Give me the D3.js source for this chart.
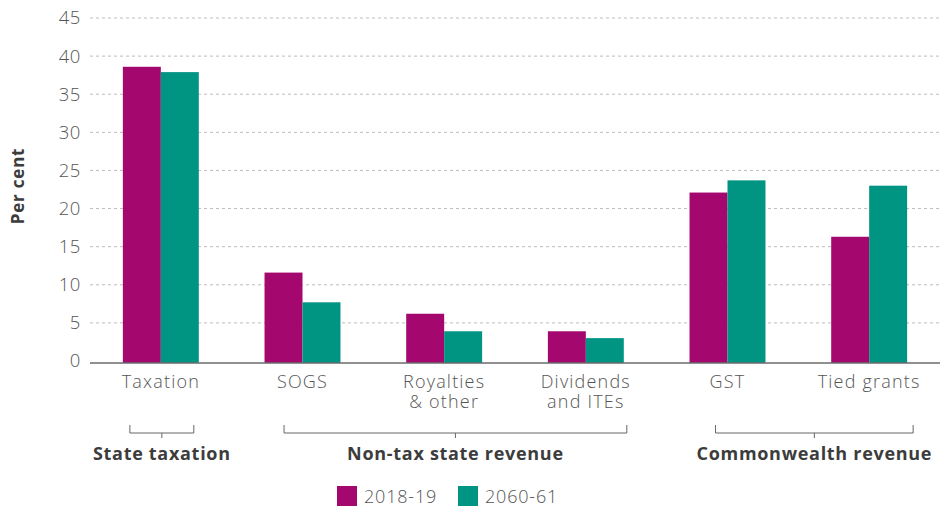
<!DOCTYPE html>
<html>
<head>
<meta charset="utf-8">
<script src="https://cdn.jsdelivr.net/npm/d3@7"></script>
<style>
  body { margin: 0; background: #fff; }
  svg { display: block; font-family: "Open Sans", sans-serif; }
</style>
</head>
<body>
<svg id="chart" width="940" height="509"></svg>
<script>
// dados
const categorias = [["Taxation"], ["SOGS"], ["Royalties", "& other"], ["Dividends", "and ITEs"], ["GST"], ["Tied grants"]];
const series = ["2018-19", "2060-61"];
const valores1819 = [38.6, 11.6, 6.2, 3.9, 22.1, 16.3];
const valores2061 = [37.9, 7.7, 3.9, 3.0, 23.7, 23.0];
const yTicks = [0, 5, 10, 15, 20, 25, 30, 35, 40, 45];
const grupos = ["State taxation", "Non-tax state revenue", "Commonwealth revenue"];
const grupoInicio = [0, 1, 4];
const grupoFim = [0, 3, 5];

const cores = ["#a4086f", "#009483"];
const corTexto = "#555";

// layout
const esq = 90, dir = 940, topo = 18, base = 361;
// recuo dos colchetes (esquerda, direita) em px
const recuoColchete = [[7, 5], [19.5, -3], [26, -6]];

const svg = d3.select("#chart");

const x0 = d3.scaleBand()
  .domain(d3.range(categorias.length))
  .range([esq, dir])
  .paddingInner(0.464)
  .paddingOuter(0.232);

const x1 = d3.scaleBand()
  .domain(series)
  .range([0, x0.bandwidth()]);

const y = d3.scaleLinear().domain([0, 45]).range([base, topo]);

// eixo y (so os numeros)
const eixoY = d3.axisLeft(y).tickValues(yTicks).tickSize(0).tickPadding(9);
const gY = svg.append("g").attr("transform", `translate(${esq},0)`).call(eixoY);
gY.select(".domain").remove();
gY.selectAll("text")
  .attr("fill", corTexto)
  .style("font-size", "18.5px")
  .style("font-family", "Open Sans, sans-serif")
  .style("font-weight", "300")
  .style("letter-spacing", "0.6px");

// linhas de grade
svg.append("g").selectAll("line")
  .data(yTicks.filter(d => d > 0))
  .join("line")
  .attr("x1", esq).attr("x2", dir)
  .attr("y1", d => y(d)).attr("y2", d => y(d))
  .attr("stroke", "#bdbdbd")
  .attr("stroke-width", 1)
  .attr("stroke-dasharray", "3,3");

// barras
const dados = categorias.map((c, i) => ({ i, vals: [valores1819[i], valores2061[i]] }));

const gBar = svg.append("g").selectAll("g")
  .data(dados)
  .join("g")
  .attr("transform", d => `translate(${x0(d.i)},0)`);

gBar.selectAll("rect")
  .data(d => d.vals.map((v, k) => ({ serie: series[k], v, k })))
  .join("rect")
  .attr("x", d => x1(d.serie))
  .attr("width", x1.bandwidth())
  .attr("y", d => y(d.v))
  .attr("height", d => base - y(d.v) + 2)
  .attr("fill", d => cores[d.k]);

// linha do zero
svg.append("line")
  .attr("x1", esq).attr("x2", dir)
  .attr("y1", base + 2).attr("y2", base + 2)
  .attr("stroke", "#6b6b6b")
  .attr("stroke-width", 1.5);

// rotulos das categorias (uma linha = um text)
categorias.forEach((linhas, i) => {
  linhas.forEach((l, j) => {
    svg.append("text")
      .attr("x", x0(i) + x0.bandwidth() / 2)
      .attr("y", 388 + j * 20)
      .attr("text-anchor", "middle")
      .attr("fill", corTexto)
      .style("font-size", "18px")
      .style("font-weight", "300")
      .style("letter-spacing", "1.2px")
      .text(l);
  });
});

// colchetes dos grupos
grupos.forEach((g, k) => {
  const xa = x0(grupoInicio[k]) + recuoColchete[k][0];
  const xb = x0(grupoFim[k]) + x0.bandwidth() - recuoColchete[k][1];
  const meio = (xa + xb) / 2;
  svg.append("path")
    .attr("d", `M${xa},425V433H${xb}V425M${meio},433V438`)
    .attr("fill", "none")
    .attr("stroke", "#666")
    .attr("stroke-width", 1);
  svg.append("text")
    .attr("x", meio)
    .attr("y", 460)
    .attr("text-anchor", "middle")
    .attr("fill", "#3c3c3c")
    .style("font-size", "18px")
    .style("font-weight", "700")
    .style("letter-spacing", "0.7px")
    .text(g);
});

// titulo do eixo y
svg.append("text")
  .attr("transform", "translate(24,186) rotate(-90)")
  .attr("text-anchor", "middle")
  .attr("fill", "#3c3c3c")
  .style("font-size", "17px")
  .style("font-weight", "700")
  .style("letter-spacing", "0.8px")
  .text("Per cent");

// legenda
const legX = [337, 458];
series.forEach((s, k) => {
  svg.append("rect")
    .attr("x", legX[k]).attr("y", 486)
    .attr("width", 20).attr("height", 20)
    .attr("fill", cores[k]);
  svg.append("text")
    .attr("x", legX[k] + 27).attr("y", 503)
    .attr("fill", corTexto)
    .style("font-size", "18px")
    .style("font-weight", "300")
    .style("letter-spacing", "0.8px")
    .text(s);
});
</script>
</body>
</html>
